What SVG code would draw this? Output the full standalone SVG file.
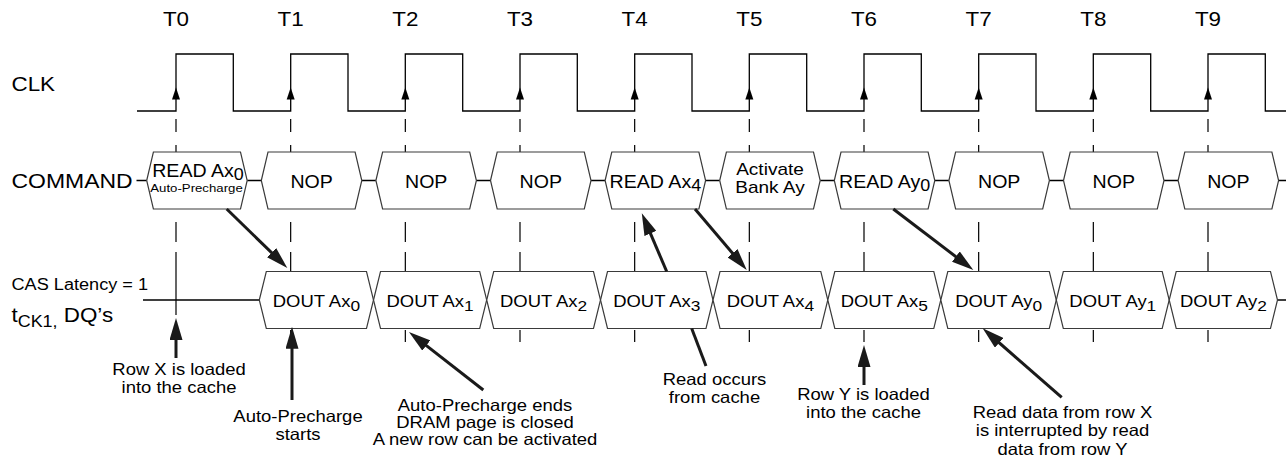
<svg xmlns="http://www.w3.org/2000/svg" width="1286" height="457" viewBox="0 0 1286 457">
<style>
text{font-family:"Liberation Sans",Arial,sans-serif;fill:#000}
.box{fill:#fff;stroke:#3a3a3a;stroke-width:1.2}
.wire{fill:none;stroke:#000;stroke-width:1.3}
.dash{fill:none;stroke:#000;stroke-width:1.2}
.arr{fill:none;stroke:#1a1a1a;stroke-width:3;marker-end:url(#ah)}
.ln{fill:none;stroke:#1a1a1a;stroke-width:3}
.t{font-size:20px;text-anchor:middle}
.cmd{font-size:17.5px;text-anchor:middle}
.sub{font-size:16px}
.small{font-size:11.8px}
.dq{font-size:16.5px;text-anchor:middle}
.dsub{font-size:15.5px}
.note{font-size:16.5px;text-anchor:middle}
</style>
<defs>
<marker id="ah" viewBox="0 0 22 13" refX="8" refY="6.5" markerWidth="22" markerHeight="13" markerUnits="userSpaceOnUse" orient="auto"><path d="M0,0 L22,6.5 L0,13 z" fill="#1a1a1a"/></marker>
<path id="ck" d="M0,-6 L4,6 L-4,6 z" fill="#000"/>
<path id="dl" class="dash" d="M0,119 V132 M0,145 V152 M0,222 V242 M0,252 V272 M0,330 V342"/>
</defs>

<g id="gridlines">
<path class="dash" d="M176,119 V132 M176,145 V152 M176,222 V242 M176,252 V315"/>
<use href="#dl" x="290.67"/>
<use href="#dl" x="405.33"/>
<use href="#dl" x="520"/>
<use href="#dl" x="634.67"/>
<use href="#dl" x="749.33"/>
<use href="#dl" x="864"/>
<use href="#dl" x="978.67"/>
<use href="#dl" x="1093.33"/>
<use href="#dl" x="1208"/>
</g>

<g id="clk">
<path class="wire" d="M137,111 H176 V54 H233.3 V111 H290.7 V54 H348 V111 H405.3 V54 H462.7 V111 H520 V54 H577.3 V111 H634.7 V54 H692 V111 H749.3 V54 H806.7 V111 H864 V54 H921.3 V111 H978.7 V54 H1036 V111 H1093.3 V54 H1150.7 V111 H1208 V54 H1265.3 V111 H1286"/>
<use href="#ck" x="176" y="93.5"/>
<use href="#ck" x="290.67" y="93.5"/>
<use href="#ck" x="405.33" y="93.5"/>
<use href="#ck" x="520" y="93.5"/>
<use href="#ck" x="634.67" y="93.5"/>
<use href="#ck" x="749.33" y="93.5"/>
<use href="#ck" x="864" y="93.5"/>
<use href="#ck" x="978.67" y="93.5"/>
<use href="#ck" x="1093.33" y="93.5"/>
<use href="#ck" x="1208" y="93.5"/>
</g>

<g id="tlabels">
<text class="t" transform="translate(176 25.5) scale(1.12 1)">T0</text>
<text class="t" transform="translate(290.67 25.5) scale(1.12 1)">T1</text>
<text class="t" transform="translate(405.33 25.5) scale(1.12 1)">T2</text>
<text class="t" transform="translate(520 25.5) scale(1.12 1)">T3</text>
<text class="t" transform="translate(634.67 25.5) scale(1.12 1)">T4</text>
<text class="t" transform="translate(749.33 25.5) scale(1.12 1)">T5</text>
<text class="t" transform="translate(864 25.5) scale(1.12 1)">T6</text>
<text class="t" transform="translate(978.67 25.5) scale(1.12 1)">T7</text>
<text class="t" transform="translate(1093.33 25.5) scale(1.12 1)">T8</text>
<text class="t" transform="translate(1208 25.5) scale(1.12 1)">T9</text>
</g>

<g id="rowlabels">
<text style="font-size:20px" transform="translate(11.5 91) scale(1.12 1)">CLK</text>
<text style="font-size:20.5px" transform="translate(11.5 188) scale(1.12 1)">COMMAND</text>
<text style="font-size:16.2px" transform="translate(11.5 290) scale(1.12 1)">CAS Latency = 1</text>
<text style="font-size:20px" transform="translate(11.5 322) scale(1.12 1)">t<tspan style="font-size:16px" dy="5">CK1,</tspan><tspan dy="-5"> DQ’s</tspan></text>
</g>

<g id="cmdwire">
<path class="wire" d="M136.5,180.5 H146.7 M247.2,180.5 H261.3 M361.8,180.5 H375.9 M476.4,180.5 H490.5 M591,180.5 H605.1 M705.6,180.5 H719.7 M820.2,180.5 H834.3 M934.8,180.5 H948.9 M1049.4,180.5 H1063.5 M1164,180.5 H1178.1 M1278.6,180.5 H1286"/>
</g>

<g id="cmd0">
<polygon class="box" points="146.7,180.5 153.4,152 240.5,152 247.2,180.5 240.5,209 153.4,209"/>
<text class="cmd" transform="translate(198 177) scale(1.12 1)">READ Ax<tspan class="sub" dy="3">0</tspan></text>
<text class="cmd small" transform="translate(196.5 192) scale(1.12 1)">Auto-Precharge</text>
</g>
<g id="cmd1">
<polygon class="box" points="261.3,180.5 268,152 355.1,152 361.8,180.5 355.1,209 268,209"/>
<text class="cmd" transform="translate(311.6 187.5) scale(1.12 1)">NOP</text>
</g>
<g id="cmd2">
<polygon class="box" points="375.9,180.5 382.6,152 469.7,152 476.4,180.5 469.7,209 382.6,209"/>
<text class="cmd" transform="translate(426.2 187.5) scale(1.12 1)">NOP</text>
</g>
<g id="cmd3">
<polygon class="box" points="490.5,180.5 497.2,152 584.3,152 591,180.5 584.3,209 497.2,209"/>
<text class="cmd" transform="translate(540.8 187.5) scale(1.12 1)">NOP</text>
</g>
<g id="cmd4">
<polygon class="box" points="605.1,180.5 611.8,152 698.9,152 705.6,180.5 698.9,209 611.8,209"/>
<text class="cmd" transform="translate(655.4 187.5) scale(1.12 1)">READ Ax<tspan class="sub" dy="3.5">4</tspan></text>
</g>
<g id="cmd5">
<polygon class="box" points="719.7,180.5 726.4,152 813.5,152 820.2,180.5 813.5,209 726.4,209"/>
<text class="cmd" style="font-size:17px" transform="translate(770 175) scale(1.12 1)"><tspan x="0">Activate</tspan><tspan x="0" dy="18">Bank Ay</tspan></text>
</g>
<g id="cmd6">
<polygon class="box" points="834.3,180.5 841,152 928.1,152 934.8,180.5 928.1,209 841,209"/>
<text class="cmd" transform="translate(884.6 187.5) scale(1.12 1)">READ Ay<tspan class="sub" dy="3.5">0</tspan></text>
</g>
<g id="cmd7">
<polygon class="box" points="948.9,180.5 955.6,152 1042.7,152 1049.4,180.5 1042.7,209 955.6,209"/>
<text class="cmd" transform="translate(999.2 187.5) scale(1.12 1)">NOP</text>
</g>
<g id="cmd8">
<polygon class="box" points="1063.5,180.5 1070.2,152 1157.3,152 1164,180.5 1157.3,209 1070.2,209"/>
<text class="cmd" transform="translate(1113.8 187.5) scale(1.12 1)">NOP</text>
</g>
<g id="cmd9">
<polygon class="box" points="1178.1,180.5 1184.8,152 1271.9,152 1278.6,180.5 1271.9,209 1184.8,209"/>
<text class="cmd" transform="translate(1228.4 187.5) scale(1.12 1)">NOP</text>
</g>

<g id="dqwire">
<path class="wire" d="M143,300 H259.3 M1277.5,300 H1286"/>
</g>

<g id="dq0">
<polygon class="box" points="259.3,300 266.3,271.5 366.5,271.5 373.5,300 366.5,328.5 266.3,328.5"/>
<text class="dq" transform="translate(316.4 306.5) scale(1.12 1)">DOUT Ax<tspan class="dsub" dy="4">0</tspan></text>
</g>
<g id="dq1">
<polygon class="box" points="373.5,300 380.5,271.5 479.7,271.5 486.7,300 479.7,328.5 380.5,328.5"/>
<text class="dq" transform="translate(430.1 306.5) scale(1.12 1)">DOUT Ax<tspan class="dsub" dy="4">1</tspan></text>
</g>
<g id="dq2">
<polygon class="box" points="486.7,300 493.7,271.5 593.5,271.5 600.5,300 593.5,328.5 493.7,328.5"/>
<text class="dq" transform="translate(543.6 306.5) scale(1.12 1)">DOUT Ax<tspan class="dsub" dy="4">2</tspan></text>
</g>
<g id="dq3">
<polygon class="box" points="600.5,300 607.5,271.5 706,271.5 713,300 706,328.5 607.5,328.5"/>
<text class="dq" transform="translate(656.8 306.5) scale(1.12 1)">DOUT Ax<tspan class="dsub" dy="4">3</tspan></text>
</g>
<g id="dq4">
<polygon class="box" points="713,300 720,271.5 820.8,271.5 827.8,300 820.8,328.5 720,328.5"/>
<text class="dq" transform="translate(770.4 306.5) scale(1.12 1)">DOUT Ax<tspan class="dsub" dy="4">4</tspan></text>
</g>
<g id="dq5">
<polygon class="box" points="827.8,300 834.8,271.5 933.8,271.5 940.8,300 933.8,328.5 834.8,328.5"/>
<text class="dq" transform="translate(884.3 306.5) scale(1.12 1)">DOUT Ax<tspan class="dsub" dy="4">5</tspan></text>
</g>
<g id="dq6">
<polygon class="box" points="940.8,300 947.8,271.5 1049.3,271.5 1056.3,300 1049.3,328.5 947.8,328.5"/>
<text class="dq" transform="translate(998.6 306.5) scale(1.12 1)">DOUT Ay<tspan class="dsub" dy="4">0</tspan></text>
</g>
<g id="dq7">
<polygon class="box" points="1056.3,300 1063.3,271.5 1162.2,271.5 1169.2,300 1162.2,328.5 1063.3,328.5"/>
<text class="dq" transform="translate(1112.8 306.5) scale(1.12 1)">DOUT Ay<tspan class="dsub" dy="4">1</tspan></text>
</g>
<g id="dq8">
<polygon class="box" points="1169.2,300 1176.2,271.5 1270.5,271.5 1277.5,300 1270.5,328.5 1176.2,328.5"/>
<text class="dq" transform="translate(1223.4 306.5) scale(1.12 1)">DOUT Ay<tspan class="dsub" dy="4">2</tspan></text>
</g>

<g id="connectors">
<path class="arr" d="M226.7,209 L277.3,258.2"/>
<path class="arr" d="M695,209 L737.7,259.3"/>
<path class="arr" d="M893.3,209 L962.2,261.5"/>
<path class="arr" d="M666.7,271.5 L647.3,226.1"/>
<path class="ln" d="M706,366 L691.7,328.5"/>
<path class="arr" d="M176,358 L176,332"/>
<path class="arr" d="M292,400 L292,340.7"/>
<path class="arr" d="M483.3,390 L420,340.6"/>
<path class="arr" d="M864,385 L864,359"/>
<path class="arr" d="M1061.7,397.3 L993.2,337.5"/>
</g>

<g id="note-rowx">
<text class="note" transform="translate(179 375) scale(1.12 1)"><tspan x="0">Row X is loaded</tspan><tspan x="0" dy="18.5">into the cache</tspan></text>
</g>
<g id="note-apstart">
<text class="note" transform="translate(298 421.5) scale(1.12 1)"><tspan x="0">Auto-Precharge</tspan><tspan x="0" dy="18.5">starts</tspan></text>
</g>
<g id="note-apend">
<text class="note" transform="translate(485 411) scale(1.12 1)"><tspan x="0">Auto-Precharge ends</tspan><tspan x="0" dy="17">DRAM page is closed</tspan><tspan x="0" dy="17">A new row can be activated</tspan></text>
</g>
<g id="note-read">
<text class="note" transform="translate(714.5 385) scale(1.12 1)"><tspan x="0">Read occurs</tspan><tspan x="0" dy="18.5">from cache</tspan></text>
</g>
<g id="note-rowy">
<text class="note" transform="translate(863.5 400) scale(1.12 1)"><tspan x="0">Row Y is loaded</tspan><tspan x="0" dy="18.5">into the cache</tspan></text>
</g>
<g id="note-interrupt">
<text class="note" transform="translate(1062.5 418) scale(1.12 1)"><tspan x="0">Read data from row X</tspan><tspan x="0" dy="18.5">is interrupted by read</tspan><tspan x="0" dy="18.5">data from row Y</tspan></text>
</g>
</svg>
